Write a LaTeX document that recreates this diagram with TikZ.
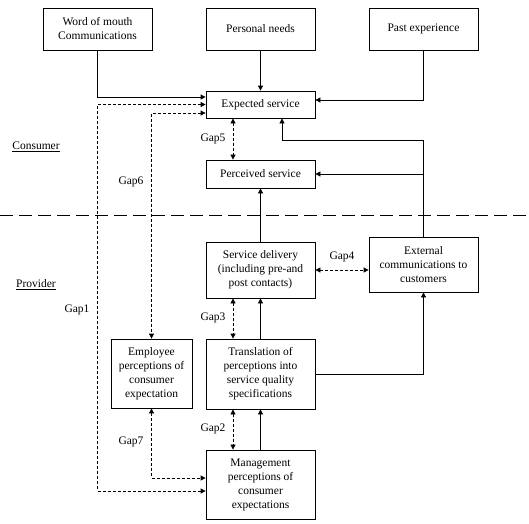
\documentclass[tikz,border=0pt]{standalone}
\usepackage{fontspec}
\setmainfont{Liberation Serif}
\usepackage{tikz}
\usetikzlibrary{calc, positioning, arrows.meta}

\begin{document}
\begin{tikzpicture}
      [x=1pt, y=-1pt,
       font=\fontsize{11.5}{14}\selectfont,
       box/.style={draw, line width=0.8pt, align=center, minimum width=109pt, inner sep=1pt},
       link/.style={-{Triangle[length=5pt,width=5pt]}, line width=0.8pt},
       gaplink/.style={{Triangle[length=5pt,width=5pt]}-{Triangle[length=5pt,width=5pt]}, line width=0.8pt, dash pattern=on 3pt off 2pt}]
      \useasboundingbox (0,0) rectangle (529,523);

      % nodes %
      \node[box, minimum height=42pt] (wom) at (97.5,29) {Word of mouth\\Communications};
      \node[box, minimum height=42pt] (needs) at (260.5,29) {Personal needs};
      \node[box, minimum height=42pt] (past) at (423.5,29) {Past experience};
      \node[box, minimum height=27pt] (expected) at (260.5,104.5) {Expected service};
      \node[box, minimum height=28pt] (perceived) at (260.5,174) {Perceived service};
      \node[box, minimum height=56pt] (delivery) at (260.5,270) {Service delivery\\(including pre-and\\post contacts)};
      \node[box, minimum height=55pt] (external) at (423.5,264.5) {External\\communications to\\customers};
      \node[box, minimum width=81pt, minimum height=69pt] (employee) at (151.5,373.5) {Employee\\perceptions of\\consumer\\expectation};
      \node[box, minimum height=70pt] (translation) at (260.5,374) {Translation of\\perceptions into\\service quality\\specifications};
      \node[box, minimum height=69pt] (management) at (260.5,484.5) {Management\\perceptions of\\consumer\\expectations};

      \node (consumer) at (36,147) {\underline{Consumer}};
      \node (provider) at (36,285) {\underline{Provider}};
      \node (gapone) at (77,310) {Gap1};
      \node (gaptwo) at (213,429) {Gap2};
      \node (gapthree) at (213,318) {Gap3};
      \node (gapfour) at (342,257) {Gap4};
      \node (gapfive) at (213,139) {Gap5};
      \node (gapsix) at (131,182) {Gap6};
      \node (gapseven) at (131,442) {Gap7};

      \coordinate (lineleft) at (0,215);
      \coordinate (lineright) at (529,215);
      \coordinate (gaponecorner) at ($(wom.south |- management.west)+(0,6.5)$);

      % edges %
      \draw[line width=0.8pt, dash pattern=on 13pt off 6pt] (lineleft) -- (lineright);

      \draw[link] (wom.south) |- ($(expected.west)+(0,-7.5)$);
      \draw[link] (needs.south) -- (expected.north);
      \draw[link] (past.south) |- ($(expected.east)+(0,-4.5)$);
      \draw[link] (delivery.north) -- (perceived.south);
      \draw[link] (external.north) |- ($(expected.south)+(21.5,22)$) -- ($(expected.south)+(21.5,0)$);
      \draw[link] (external.north |- perceived.east) -- (perceived.east);
      \draw[link] (translation.north) -- (delivery.south);
      \draw[link] (translation.east) -| (external.south);
      \draw[link] (management.north) -- (translation.south);

      \draw[gaplink] (expected.west) -| (gaponecorner) -- ($(management.west)+(0,6.5)$);
      \draw[gaplink] ($(expected.west)+(0,8.5)$) -| (employee.north);
      \draw[gaplink] ($(expected.south)+(-27.5,0)$) -- ($(perceived.north)+(-27.5,0)$);
      \draw[gaplink] (delivery.east) -- (delivery.east -| external.west);
      \draw[gaplink] ($(delivery.south)+(-27.5,0)$) -- ($(translation.north)+(-27.5,0)$);
      \draw[gaplink] ($(translation.south)+(-27.5,0)$) -- ($(management.north)+(-27.5,0)$);
      \draw[gaplink] (employee.south) |- ($(management.west)+(0,-6.5)$);

    \end{tikzpicture}
\end{document}
